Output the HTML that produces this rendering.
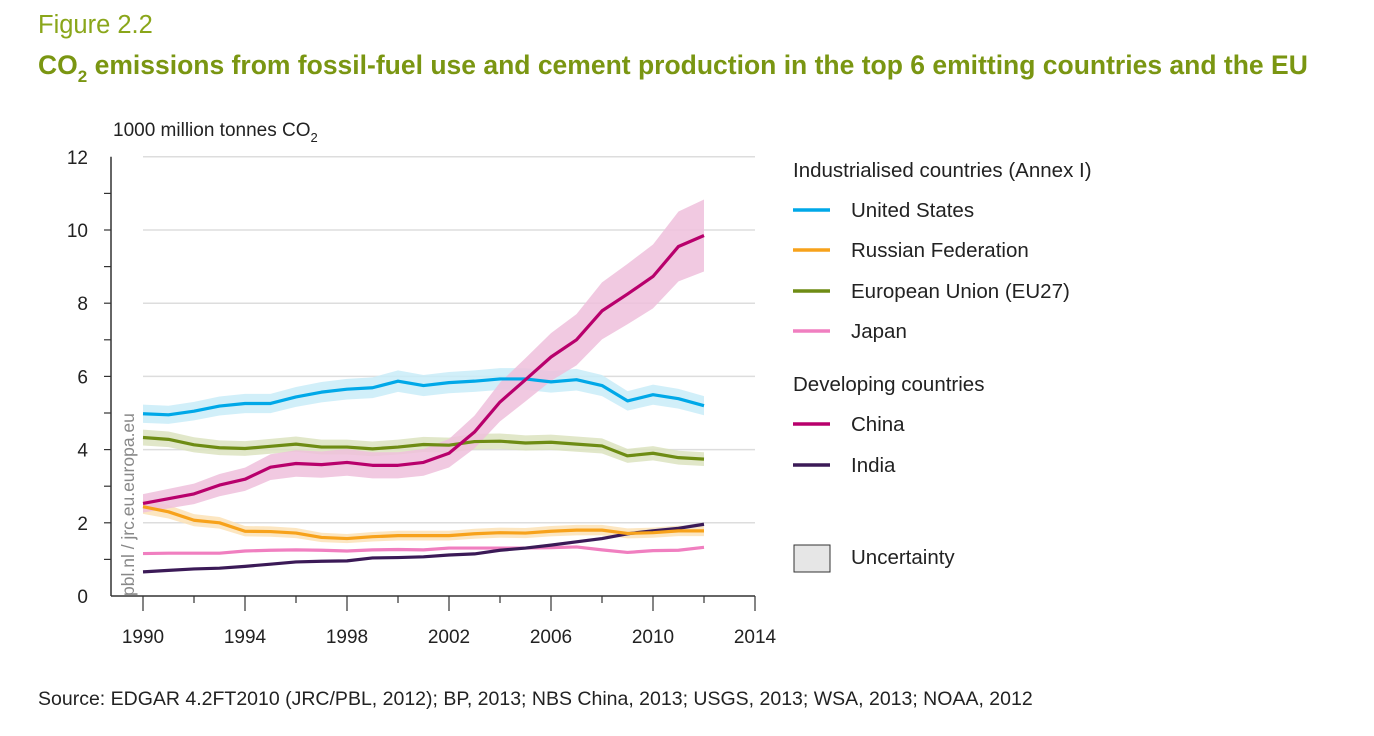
<!DOCTYPE html>
<html><head><meta charset="utf-8"><style>
body{margin:0;background:#fff;width:1374px;height:736px;overflow:hidden;font-family:"Liberation Sans","DejaVu Sans",sans-serif}
svg{position:absolute;left:0;top:0}
</style></head><body>
<svg id="chart" width="1374" height="736">
<text x="38" y="33" font-size="25.5" fill="#8aa61a">Figure 2.2</text>
<text x="38" y="74" font-size="26.5" font-weight="bold" fill="#7a9612">CO<tspan font-size="17" dy="8">2</tspan><tspan dy="-8"> emissions from fossil-fuel use and cement production in the top 6 emitting countries and the EU</tspan></text>
<text x="113" y="136" font-size="19" fill="#222">1000 million tonnes CO<tspan font-size="13" dy="6">2</tspan></text>
<text transform="translate(134,596) rotate(-90)" font-size="17.5" fill="#888">pbl.nl / jrc.eu.europa.eu</text>
<text x="38" y="705" font-size="19.5" fill="#222">Source: EDGAR 4.2FT2010 (JRC/PBL, 2012); BP, 2013; NBS China, 2013; USGS, 2013; WSA, 2013; NOAA, 2012</text>
<g id="grid"></g><g id="bands"></g><g id="lines"></g><g id="axes"></g><g id="legend"></g>
</svg>
<script>
const years=[1990,1991,1992,1993,1994,1995,1996,1997,1998,1999,2000,2001,2002,2003,2004,2005,2006,2007,2008,2009,2010,2011,2012];
const usValues=[4.98,4.95,5.05,5.19,5.26,5.26,5.44,5.57,5.65,5.69,5.87,5.75,5.83,5.87,5.93,5.93,5.85,5.91,5.75,5.33,5.5,5.39,5.2];
const russiaValues=[2.44,2.3,2.07,2.0,1.77,1.76,1.72,1.6,1.57,1.62,1.65,1.65,1.65,1.7,1.73,1.72,1.77,1.8,1.8,1.71,1.73,1.78,1.78];
const euValues=[4.33,4.28,4.13,4.05,4.03,4.09,4.15,4.07,4.07,4.02,4.07,4.14,4.12,4.22,4.23,4.18,4.2,4.15,4.1,3.83,3.9,3.78,3.74];
const japanValues=[1.16,1.17,1.17,1.17,1.23,1.25,1.26,1.25,1.23,1.26,1.27,1.26,1.31,1.31,1.31,1.31,1.32,1.34,1.26,1.19,1.24,1.25,1.33];
const chinaValues=[2.53,2.66,2.79,3.03,3.19,3.52,3.62,3.59,3.65,3.57,3.57,3.65,3.9,4.48,5.3,5.91,6.53,7.0,7.79,8.25,8.73,9.55,9.85];
const indiaValues=[0.66,0.7,0.74,0.76,0.81,0.87,0.93,0.95,0.96,1.04,1.05,1.07,1.12,1.15,1.25,1.31,1.39,1.48,1.57,1.7,1.78,1.85,1.96];
const uncertaintyShare=[0.05,0.08,0.05,0.03,0.1,0.03];
const yTicks=[0,2,4,6,8,10,12];
const xTickLabels=[1990,1994,1998,2002,2006,2010,2014];
const seriesNames=["United States","Russian Federation","European Union (EU27)","Japan","China","India"];
const NS="http://www.w3.org/2000/svg";
const xs=y=>143+(y-1990)*25.5;
const ys=v=>596-v*36.6;
function mk(t,a,p){const e=document.createElementNS(NS,t);for(const k in a)e.setAttribute(k,a[k]);p.appendChild(e);return e;}
const grid=document.getElementById('grid'),axes=document.getElementById('axes'),bands=document.getElementById('bands'),lines=document.getElementById('lines'),legend=document.getElementById('legend');
yTicks.forEach(v=>{
 if(v>0){const g=mk('line',{x1:143,x2:755,y1:ys(v),y2:ys(v),stroke:'#ddd','stroke-width':1.5},grid);
 
 }
 const t=mk('text',{x:88,y:ys(v)+7,'text-anchor':'end','font-size':19,fill:'#222'},axes);t.textContent=v;
 
 
});
for(let v=1;v<12;v++){mk('line',{x1:104,x2:111,y1:ys(v),y2:ys(v),stroke:'#333','stroke-width':1.2},axes);}
mk('line',{x1:111,x2:111,y1:ys(12),y2:596,stroke:'#333','stroke-width':1.5},axes);
mk('line',{x1:111,x2:755,y1:596,y2:596,stroke:'#333','stroke-width':1.5},axes);
for(let y=1990;y<=2014;y+=2){mk('line',{x1:xs(y),x2:xs(y),y1:596,y2:((y-1990)%4===0)?611:603,stroke:'#333','stroke-width':1.2},axes);}
xTickLabels.forEach(y=>{const t=mk('text',{x:xs(y),y:643,'text-anchor':'middle','font-size':19,fill:'#222'},axes);t.textContent=y;
 
 });
const all=[usValues,russiaValues,euValues,japanValues,chinaValues,indiaValues];
const cols=['#00a8e8','#f7a21b','#6e8c14','#f07fc0','#b8006c','#3b1a57'];
const bandCols=['#c9ecf8','#fbe2b6','#dce3bf','#fbd9ec','#eec0dc','#ddd'];
const keys=['us','russia','eu','japan','china','india'];
all.forEach((vals,i)=>{
 const u=uncertaintyShare[i];
 let up=vals.map((v,j)=>xs(years[j])+','+ys(v*(1+u))), dn=vals.map((v,j)=>xs(years[j])+','+ys(v*(1-u))).reverse();
 const b=mk('polygon',{points:up.concat(dn).join(' '),fill:bandCols[i],opacity:0.85},bands);
 
 
});
[3,5,1,2,0,4].forEach(i=>{
 const p=mk('polyline',{points:all[i].map((v,j)=>xs(years[j])+','+ys(v)).join(' '),fill:'none',stroke:cols[i],'stroke-width':3.2,'stroke-linejoin':'round'},lines);
 
 
});
function lt(x,y,s,n){const t=mk('text',{x:x,y:y,'font-size':20.5,fill:'#222'},legend);t.textContent=s;
 
 }
lt(793,177,'Industrialised countries (Annex I)','legend-heading-industrialised');
lt(793,391,'Developing countries','legend-heading-developing');
const ly=[210,250,291,331,424,465];
seriesNames.forEach((s,i)=>{
 const l=mk('line',{x1:793,x2:830,y1:ly[i],y2:ly[i],stroke:cols[i],'stroke-width':3.5},legend);
 
 
 lt(851,ly[i]+7,s,'legend-entry-'+keys[i]);
});
const r=mk('rect',{x:794,y:545,width:36,height:27,fill:'#e6e6e6',stroke:'#333','stroke-width':1},legend);


lt(851,564,'Uncertainty','legend-entry-uncertainty');
</script>
</body></html>
